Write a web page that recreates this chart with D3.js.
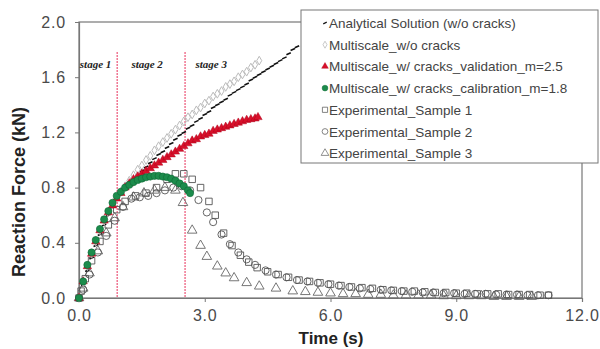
<!DOCTYPE html>
<html>
<head>
<meta charset="utf-8">
<script src="https://cdn.jsdelivr.net/npm/d3@7"></script>
<style>
  body { margin: 0; background: #fff; }
  svg text { font-family: Arial, "Liberation Sans", sans-serif; }
</style>
</head>
<body>
<div id="chart"></div>
<script>
// --- data ---
const xTicks = [0, 3, 6, 9, 12];
const yTicks = [0, 0.4, 0.8, 1.2, 1.6, 2.0];
const stageTimes = [0.91, 2.53];
const stageNames = ['stage 1', 'stage 2', 'stage 3'];
const stageLabelTimes = [0.02, 1.25, 2.78];

const analyticalT = [0,0.1,0.2,0.3,0.4,0.5,0.6,0.7,0.8,0.9,1.0,1.1,1.2,1.3,1.4,1.5,1.6,1.7,1.8,1.9,2.0,2.1,2.2,2.3,2.4,2.5,2.6,2.7,2.8,2.9,3.0,3.1,3.2,3.3,3.4,3.5,3.6,3.7,3.8,3.9,4.0,4.1,4.2,4.3,4.4,4.5,4.6,4.7,4.8,4.9,5.0,5.1,5.2];
const analyticalF = [0,0.1,0.2,0.29,0.38,0.46,0.53,0.6,0.66,0.72,0.75,0.79,0.82,0.85,0.89,0.92,0.95,0.98,1.01,1.04,1.06,1.09,1.12,1.15,1.18,1.2,1.23,1.25,1.28,1.3,1.33,1.35,1.38,1.4,1.42,1.44,1.47,1.49,1.51,1.53,1.55,1.58,1.6,1.62,1.64,1.66,1.68,1.7,1.72,1.74,1.77,1.8,1.82];

const noCrackT = [0,0.1,0.2,0.3,0.4,0.5,0.6,0.7,0.8,0.9,1.0,1.1,1.2,1.3,1.4,1.5,1.6,1.7,1.8,1.9,2.0,2.1,2.2,2.3,2.4,2.5,2.6,2.7,2.8,2.9,3.0,3.1,3.2,3.3,3.4,3.5,3.6,3.7,3.8,3.9,4.0,4.1,4.2,4.3];
const noCrackF = [0,0.12,0.23,0.32,0.41,0.49,0.56,0.62,0.68,0.73,0.77,0.81,0.85,0.89,0.93,0.96,1.0,1.03,1.07,1.1,1.13,1.16,1.19,1.22,1.25,1.28,1.31,1.33,1.36,1.38,1.41,1.43,1.46,1.48,1.5,1.53,1.55,1.57,1.6,1.62,1.64,1.67,1.69,1.72];

const validationT = [0,0.1,0.2,0.3,0.4,0.5,0.6,0.7,0.8,0.9,1.0,1.1,1.2,1.3,1.4,1.5,1.6,1.7,1.8,1.9,2.0,2.1,2.2,2.3,2.4,2.5,2.6,2.7,2.8,2.9,3.0,3.1,3.2,3.3,3.4,3.5,3.6,3.7,3.8,3.9,4.0,4.1,4.2,4.27];
const validationF = [0,0.12,0.23,0.32,0.41,0.49,0.56,0.62,0.67,0.72,0.76,0.8,0.83,0.86,0.88,0.9,0.92,0.94,0.96,0.98,1.0,1.02,1.04,1.06,1.08,1.1,1.12,1.14,1.15,1.17,1.18,1.19,1.21,1.22,1.23,1.24,1.25,1.26,1.27,1.28,1.29,1.295,1.3,1.31];

const calibrationT = [0,0.1,0.2,0.3,0.4,0.5,0.6,0.7,0.8,0.9,1.0,1.1,1.2,1.3,1.4,1.5,1.6,1.7,1.8,1.9,2.0,2.1,2.2,2.3,2.4,2.5,2.6,2.65];
const calibrationF = [0,0.12,0.24,0.33,0.42,0.5,0.57,0.63,0.69,0.74,0.77,0.8,0.82,0.84,0.855,0.865,0.875,0.88,0.885,0.885,0.88,0.875,0.865,0.85,0.83,0.81,0.78,0.76];

const sample1T = [0,0.05,0.15,0.3,0.5,0.7,0.9,1.1,1.35,1.6,1.85,2.1,2.3,2.5,2.7,2.9,3.1,3.25,3.45,3.65,3.85,4.05,4.25,4.5,4.75,5.0,5.25,5.5,5.75,6.0,6.25,6.5,6.75,7.0,7.25,7.5,7.75,8.0,8.25,8.5,8.75,9.0,9.25,9.5,9.75,10.0,10.25,10.5,10.75,11.0,11.2];
const sample1F = [0,0.05,0.14,0.27,0.41,0.53,0.64,0.7,0.74,0.76,0.8,0.86,0.9,0.9,0.86,0.8,0.7,0.6,0.47,0.38,0.31,0.26,0.22,0.19,0.17,0.15,0.13,0.12,0.11,0.1,0.09,0.08,0.075,0.07,0.06,0.055,0.05,0.05,0.045,0.04,0.04,0.035,0.035,0.03,0.03,0.03,0.025,0.025,0.025,0.02,0.02];

const sample2T = [0,0.1,0.25,0.45,0.65,0.85,1.05,1.25,1.45,1.65,1.85,2.05,2.25,2.45,2.65,2.85,3.05,3.2,3.4,3.6,3.8,4.0,4.2,4.45,4.7,4.95,5.2,5.45,5.7,5.95,6.2,6.45,6.7,6.95,7.2,7.45,7.7,7.95,8.2,8.45,8.7,8.95,9.2,9.45,9.7,9.95,10.2,10.45,10.7,10.95,11.2];
const sample2F = [0,0.06,0.17,0.33,0.45,0.56,0.66,0.72,0.73,0.74,0.76,0.78,0.8,0.81,0.78,0.71,0.62,0.55,0.46,0.39,0.33,0.28,0.24,0.2,0.17,0.15,0.13,0.12,0.11,0.1,0.09,0.08,0.07,0.065,0.06,0.055,0.05,0.045,0.04,0.04,0.035,0.035,0.03,0.03,0.03,0.025,0.025,0.025,0.02,0.02,0.02];

const sample3T = [0,0.1,0.25,0.45,0.65,0.85,1.05,1.3,1.55,1.8,2.05,2.3,2.48,2.7,2.9,3.05,3.3,3.5,3.7,4.0,4.3,4.7,5.1,5.4,5.7,6.0,6.3,6.6,6.9,7.2,7.5,7.8,8.1,8.4,8.7,9.0,9.3,9.6,9.9,10.2,10.5,10.8];
const sample3F = [0,0.07,0.18,0.34,0.47,0.58,0.66,0.73,0.76,0.78,0.8,0.78,0.69,0.49,0.38,0.3,0.23,0.18,0.145,0.11,0.085,0.07,0.05,0.045,0.04,0.035,0.03,0.03,0.025,0.025,0.02,0.02,0.02,0.02,0.015,0.015,0.015,0.015,0.01,0.01,0.01,0.01];

const legendLabels = [
    'Analytical Solution (w/o cracks)',
    'Multiscale_w/o cracks',
    'Multiscale_w/ cracks_validation_m=2.5',
    'Multiscale_w/ cracks_calibration_m=1.8',
    'Experimental_Sample 1',
    'Experimental_Sample 2',
    'Experimental_Sample 3',
];

// --- layout ---
const width = 600, height = 349;
const x = d3.scaleLinear().domain([0, 12]).range([79, 582]);
const y = d3.scaleLinear().domain([0, 2]).range([298, 22]);

const svg = d3.select('#chart').append('svg')
    .attr('width', width)
    .attr('height', height);

const zip = (ts, fs) => ts.map((t, i) => ({ t, f: fs[i] }));

// frame
svg.append('rect')
    .attr('x', x(0)).attr('y', y(2))
    .attr('width', x(12) - x(0)).attr('height', y(0) - y(2))
    .attr('fill', 'none').attr('stroke', '#777').attr('stroke-width', 1.2);

// axes
const xAxis = svg.append('g')
    .attr('transform', `translate(0,${y(0)})`)
    .call(d3.axisBottom(x).tickValues(xTicks).tickFormat(d3.format('.1f')).tickSize(4).tickPadding(8));
const yAxis = svg.append('g')
    .attr('transform', `translate(${x(0)},0)`)
    .call(d3.axisLeft(y).tickValues(yTicks).tickFormat(d3.format('.1f')).tickSize(4).tickPadding(9));
[xAxis, yAxis].forEach(a => {
    a.select('.domain').attr('stroke', '#777').attr('stroke-width', 1.2);
    a.selectAll('line').attr('stroke', '#777');
    a.selectAll('text')
        .attr('fill', '#4a4a4a')
        .style('font-size', '16px')
        .style('letter-spacing', '0.8px');
});

// axis titles
svg.append('text')
    .attr('transform', 'translate(25,192) rotate(-90)')
    .attr('text-anchor', 'middle')
    .style('font-size', '18px').style('font-weight', 'bold')
    .attr('fill', '#222')
    .text('Reaction Force (kN)');
svg.append('text')
    .attr('x', 331).attr('y', 344)
    .attr('text-anchor', 'middle')
    .style('font-size', '17px').style('font-weight', 'bold')
    .attr('fill', '#222')
    .text('Time (s)');

// stage lines
svg.append('g').selectAll('line')
    .data(stageTimes)
    .enter().append('line')
    .attr('x1', d => x(d)).attr('x2', d => x(d))
    .attr('y1', 52).attr('y2', y(0))
    .attr('stroke', '#e8305a').attr('stroke-width', 1)
    .attr('stroke-dasharray', '2,1');
svg.append('g').selectAll('text')
    .data(stageNames)
    .enter().append('text')
    .attr('x', (d, i) => x(stageLabelTimes[i]))
    .attr('y', 68)
    .style('font-family', '"Liberation Serif", "DejaVu Serif", serif')
    .style('font-size', '11px').style('font-weight', 'bold').style('font-style', 'italic')
    .attr('fill', '#222')
    .text(d => d);

// marker painters
const sym = (type, size) => d3.symbol().type(type).size(size)();
const markers = {
    dash: g => g.append('line')
        .attr('x1', -2.2).attr('y1', 1).attr('x2', 2.2).attr('y2', -1)
        .attr('stroke', '#111').attr('stroke-width', 1.6),
    diamond: g => g.append('path').attr('d', sym(d3.symbolDiamond, 22))
        .attr('fill', 'none').attr('stroke', '#bbb').attr('stroke-width', 1),
    redTri: g => g.append('path').attr('d', sym(d3.symbolTriangle, 30))
        .attr('fill', '#d8102a').attr('stroke', '#b0001a').attr('stroke-width', 0.5),
    greenDot: g => g.append('circle').attr('r', 3.6)
        .attr('fill', '#1c8c4c').attr('stroke', '#0e6a36').attr('stroke-width', 0.6),
    square: g => g.append('path').attr('d', sym(d3.symbolSquare, 42))
        .attr('fill', 'none').attr('stroke', '#555').attr('stroke-width', 0.9),
    circle: g => g.append('circle').attr('r', 3.6)
        .attr('fill', 'none').attr('stroke', '#555').attr('stroke-width', 0.9),
    openTri: g => g.append('path').attr('d', sym(d3.symbolTriangle, 40))
        .attr('fill', 'none').attr('stroke', '#666').attr('stroke-width', 0.9),
};

const series = [
    { data: zip(sample3T, sample3F), mark: 'openTri' },
    { data: zip(sample2T, sample2F), mark: 'circle' },
    { data: zip(sample1T, sample1F), mark: 'square' },
    { data: zip(analyticalT, analyticalF), mark: 'dash' },
    { data: zip(noCrackT, noCrackF), mark: 'diamond' },
    { data: zip(validationT, validationF), mark: 'redTri' },
    { data: zip(calibrationT, calibrationF), mark: 'greenDot' },
];

series.forEach(s => {
    svg.append('g')
        .selectAll('g')
        .data(s.data)
        .enter().append('g')
        .attr('transform', d => `translate(${x(d.t)},${y(d.f)})`)
        .each(function () { markers[s.mark](d3.select(this)); });
});

// legend
const legendMarks = ['dash', 'diamond', 'redTri', 'greenDot', 'square', 'circle', 'openTri'];
const legend = svg.append('g').attr('transform', 'translate(301,10)');
legend.append('rect')
    .attr('width', 297).attr('height', 153)
    .attr('fill', '#fff').attr('stroke', '#777').attr('stroke-width', 1);
const rows = legend.selectAll('g.row')
    .data(legendLabels)
    .enter().append('g')
    .attr('class', 'row')
    .attr('transform', (d, i) => `translate(24,${13 + i * 21.7})`);
rows.each(function (d, i) {
    const m = d3.select(this).append('g').attr('transform', 'scale(0.8)');
    markers[legendMarks[i]](m);
});
rows.append('text')
    .attr('x', 4).attr('y', 5)
    .style('font-size', '13.5px')
    .attr('fill', '#444')
    .text(d => d);
</script>
</body>
</html>
